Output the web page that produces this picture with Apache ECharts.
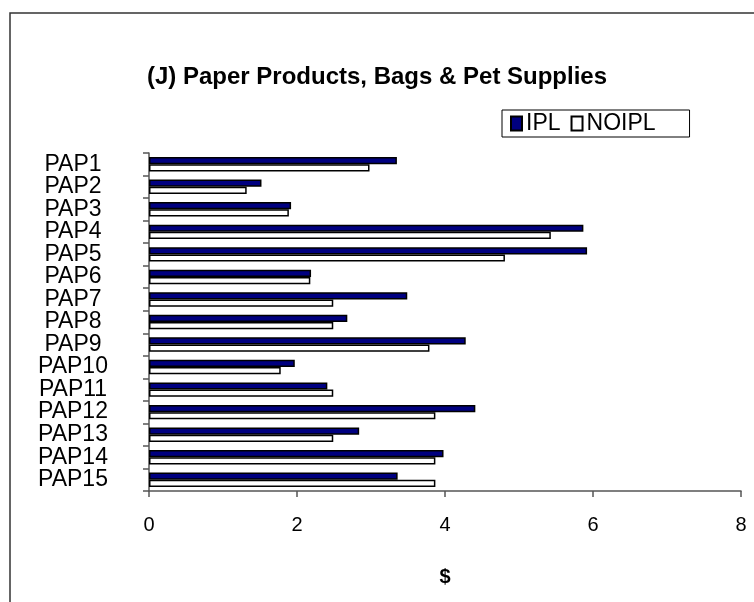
<!DOCTYPE html>
<html>
<head>
<meta charset="utf-8">
<script src="https://cdn.jsdelivr.net/npm/echarts@6/dist/echarts.min.js"></script>
<style>html,body{margin:0;padding:0;background:#fff;}#c{width:754px;height:602px;}</style>
</head>
<body>
<div id="c"></div>
<script>
const categories = ['PAP1','PAP2','PAP3','PAP4','PAP5','PAP6','PAP7','PAP8','PAP9','PAP10','PAP11','PAP12','PAP13','PAP14','PAP15'];
const iplValues = [3.35,1.52,1.92,5.87,5.92,2.19,3.49,2.68,4.28,1.97,2.41,4.41,2.84,3.98,3.36];
const noiplValues = [2.98,1.32,1.89,5.43,4.81,2.18,2.49,2.49,3.79,1.78,2.49,3.87,2.49,3.87,3.87];
const xTicks = [0,2,4,6,8];

const font = 'Liberation Sans, Arial, sans-serif';
const chart = echarts.init(document.getElementById('c'), null, {renderer:'canvas'});
chart.setOption({
  animation:false,
  backgroundColor:'#fff',
  title:{
    text:'(J) Paper Products, Bags & Pet Supplies',
    left:'center', top:60,
    textStyle:{fontFamily:font, fontSize:24, fontWeight:'bold', color:'#000'}
  },
  legend:{
    left:502, top:110,
    borderColor:'#000', borderWidth:1,
    padding:[2,34,2,8],
    icon:'rect',
    itemWidth:11, itemHeight:14, itemGap:10,
    textStyle:{fontFamily:font, fontSize:23, color:'#000', padding:[0,0,0,-1]},
    data:['IPL','NOIPL']
  },
  graphic:[{
    type:'rect', shape:{x:10,y:13,width:800,height:700},
    style:{fill:'none', stroke:'#333', lineWidth:1.5}, silent:true
  }],
  grid:{left:149, right:13, top:153, bottom:111, containLabel:false},
  xAxis:{
    type:'value', min:xTicks[0], max:xTicks[xTicks.length-1], interval:2,
    axisLine:{show:true, lineStyle:{color:'#555', width:1.5}},
    axisTick:{show:true, length:6, lineStyle:{color:'#555', width:1.5}},
    splitLine:{show:false},
    axisLabel:{fontFamily:font, fontSize:20, color:'#000', margin:24},
    name:'$', nameLocation:'middle', nameGap:76,
    nameTextStyle:{fontFamily:font, fontSize:20, fontWeight:'bold', color:'#000'}
  },
  yAxis:{
    type:'category', data:categories, inverse:true,
    axisLine:{show:true, lineStyle:{color:'#555', width:1.5}},
    axisTick:{show:true, length:6, lineStyle:{color:'#555', width:1.5}},
    axisLabel:{fontFamily:font, fontSize:23, color:'#000', align:'center', margin:76, interval:0}
  },
  series:[
    {name:'IPL', type:'bar', data:iplValues, barGap:'0%', barCategoryGap:'36%',
     itemStyle:{color:'#000080', borderColor:'#000', borderWidth:1.5}},
    {name:'NOIPL', type:'bar', data:noiplValues, barGap:'0%', barCategoryGap:'36%',
     itemStyle:{color:'#fff', borderColor:'#000', borderWidth:1.5}}
  ]
});
</script>
</body>
</html>
